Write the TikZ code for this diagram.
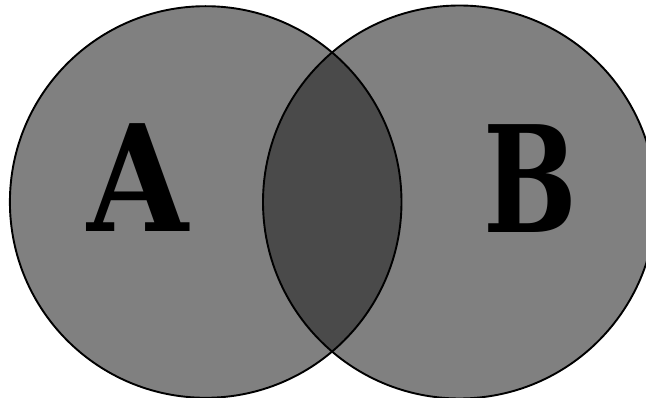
\documentclass[tikz,border=0pt]{standalone}
\usepackage{fontspec}
\newfontfamily\lettfont{DejaVu Serif}
\definecolor{circfill}{HTML}{808080}
\definecolor{lensfill}{HTML}{4A4A4A}
\begin{document}
\begin{tikzpicture}[x=1pt,y=-1pt,
  setcircle/.style={draw=black,line width=1.9pt},
  letter/.style={font=\lettfont\bfseries\fontsize{148}{148}\selectfont,text=black,inner sep=0pt}]
\useasboundingbox (0,0) rectangle (646,398);
\coordinate (ca) at (205.7,202);
\coordinate (cb) at (459.5,202);
\fill[circfill] (ca) circle[radius=195.8];
\fill[circfill] (cb) circle[radius=196.5];
\begin{scope}
  \clip (ca) circle[radius=195.8];
  \fill[lensfill] (cb) circle[radius=196.5];
\end{scope}
\draw[setcircle] (ca) circle[radius=195.8];
\draw[setcircle] (cb) circle[radius=196.5];
\node[letter] (A) at (138.5,178) {\scalebox{0.88}[1]{A}};
\node[letter] (B) at (530,178.5) {\scalebox{0.75}[1]{B}};
\end{tikzpicture}
\end{document}
